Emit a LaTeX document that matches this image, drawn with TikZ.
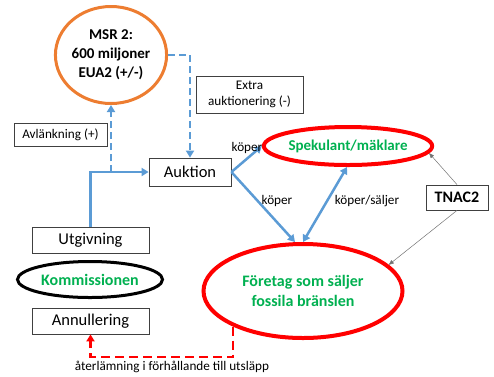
\documentclass[tikz,border=0pt]{standalone}
\usepackage{fontspec}
\setmainfont{Carlito}
\usetikzlibrary{shapes.geometric}
\usetikzlibrary{arrows.meta}

\definecolor{flowblue}{RGB}{91,155,213}
\definecolor{msrorange}{RGB}{237,125,49}
\definecolor{actorgreen}{RGB}{0,176,80}
\definecolor{actorred}{RGB}{255,0,0}

\tikzset{
  box/.style={draw=black!75, line width=.8pt, inner sep=0pt, align=center},
  bigtext/.style={font=\fontsize{16.5}{18}\selectfont},
  smalltext/.style={font=\fontsize{13.2}{15.5}\selectfont},
  actor/.style={ellipse, line width=4pt, draw=actorred, inner sep=0pt, align=center,
    text=actorgreen, font=\bfseries\fontsize{16}{20}\selectfont},
  flow/.style={draw=flowblue, line width=2.5pt, -{Triangle[length=7pt,width=8pt]}},
  dflow/.style={flow, dash pattern=on 7pt off 4pt},
  thin/.style={draw=black!55, line width=.5pt, -{Triangle[length=5pt,width=4pt]}}
}

\begin{document}
\begin{tikzpicture}[x=1pt,y=-1pt]
  \useasboundingbox (0,0) rectangle (494,376);

  % market stability reserve
  \node (msr) [ellipse, draw=msrorange, line width=3pt, inner sep=0pt,
    minimum width=105pt, minimum height=97pt, align=center,
    font=\bfseries\fontsize{15}{19}\selectfont] at (111,55)
    {MSR 2:\\600 miljoner\\EUA2 (+/-)};

  \node (auk) [box, bigtext, minimum width=82pt, minimum height=28pt] at (190,172) {Auktion};
  \node (avl) [box, smalltext, minimum width=93pt, minimum height=23pt] at (60.5,134.5) {Avlänkning (+)};
  \node (extra) [box, smalltext, minimum width=107pt, minimum height=37pt] at (249.5,94.5)
    {Extra\\auktionering (-)};
  \node (tnac) [box, bigtext, font=\bfseries\fontsize{16}{18}\selectfont,
    minimum width=62pt, minimum height=25pt] at (457,197.5) {TNAC2};

  \node (spek) [actor, minimum width=144pt, minimum height=38pt,
    font=\bfseries\fontsize{15}{18}\selectfont] at (348,146) {Spekulant/mäklare};
  \node (for) [actor, minimum width=199pt, minimum height=94pt] at (303,291)
    {Företag som säljer\\fossila bränslen};

  \node (utg) [box, bigtext, minimum width=117pt, minimum height=26pt] at (90.5,240) {Utgivning};
  \node (kom) [ellipse, draw=black, line width=3pt, inner sep=0pt,
    minimum width=145pt, minimum height=36pt, text=actorgreen,
    font=\bfseries\fontsize{16}{18}\selectfont] at (90,279.5) {Kommissionen};
  \node (ann) [box, bigtext, minimum width=117pt, minimum height=26pt] at (90.5,321) {Annullering};

  % flows
  \draw [dflow] (msr.east) -| (auk.north);
  \draw [flow] (utg.north) |- (auk.west);
  \coordinate (split) at (msr.south |- auk.west);
  \draw [dflow] (split) -- (msr.south);
  \draw [flow] (auk.east) -- (spek.west);
  \draw [flow] (auk.east) -- ([xshift=-8pt]for.north);
  \draw [flow, {Triangle[length=7pt,width=8pt]}-{Triangle[length=7pt,width=8pt]}]
    ([xshift=-1pt]spek.south) -- (for.north);
  \draw [thin] (tnac.north) -- (spek.-5);
  \draw [thin] (tnac.south) -- (for.17);

  \coordinate (bottom) at (0,357);
  \draw [draw=actorred, line width=2.5pt, dash pattern=on 9pt off 5pt,
    -{Triangle[length=7pt,width=8pt]}]
    (for.207) -- (for.207 |- bottom) -| (ann.south);

  % labels
  \node (k1) [smalltext] at (247,148) {köper};
  \node (k2) [smalltext] at (277,201) {köper};
  \node (ks) [smalltext] at (367,201) {köper/säljer};
  \node (ret) [smalltext] at (172,367) {återlämning i förhållande till utsläpp};
\end{tikzpicture}
\end{document}
